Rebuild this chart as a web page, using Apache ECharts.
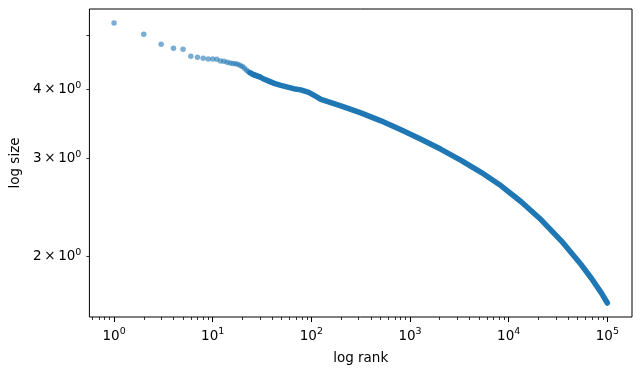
<!DOCTYPE html>
<html>
<head>
<meta charset="utf-8">
<script src="https://cdn.jsdelivr.net/npm/echarts@6/dist/echarts.min.js"></script>
<style>
  html, body { margin: 0; padding: 0; background: #fff; }
  #chart { width: 640px; height: 375px; }
</style>
</head>
<body>
<div id="chart"></div>
<script>
// individual points at the top ranks
const topRank = [1, 2, 3, 4, 5, 6, 7, 8, 9, 10, 11, 12, 13, 14, 15, 16, 17, 18, 19, 20,
  21, 22, 23, 24, 25, 26, 27, 28, 29, 30];
const topSize = [5.267, 5.026, 4.821, 4.742, 4.722, 4.587, 4.568, 4.549, 4.536, 4.532,
  4.530, 4.498, 4.493, 4.474, 4.461, 4.452, 4.443, 4.434, 4.415, 4.393,
  4.361, 4.328, 4.301, 4.280, 4.262, 4.248, 4.238, 4.227, 4.218, 4.210];

// dense part: the points merge into a solid band
const bandRank = [24, 26, 28, 30, 33, 36, 42, 49, 66, 78, 94, 110, 125, 199, 317, 507, 809, 1291,
  2061, 3289, 5249, 8378, 13370, 21340, 34110, 54450, 68860, 86900, 100000];
const bandSize = [4.280, 4.248, 4.227, 4.210, 4.171, 4.144, 4.098, 4.064, 4.008, 3.988, 3.947, 3.885, 3.834,
  3.732, 3.625, 3.507, 3.378, 3.248, 3.116, 2.977, 2.832, 2.678, 2.506,
  2.325, 2.131, 1.929, 1.824, 1.717, 1.646];

// axis ticks
const xMajor = [1, 10, 100, 1000, 10000, 100000];
const xMinorSteps = [2, 3, 4, 5, 6, 7, 8, 9];
const yLabelTicks = [2, 3, 4];
const yAllTicks = [2, 3, 4, 5];

const xMinor = [];
[0.1, 1, 10, 100, 1000, 10000].forEach(d => {
  xMinorSteps.forEach(s => xMinor.push(+(s * d).toPrecision(3)));
});

const xMin = 0.5623, xMax = 177828;
const yMin = 1.553, yMax = 5.58;
const font = 'DejaVu Sans';

// mathtext-like 10^n labels
const richLabel = {
  m: { fontFamily: font, fontSize: 13.5, color: '#000', lineHeight: 18 },
  s: { fontFamily: font, fontSize: 9.5, color: '#000', lineHeight: 11, verticalAlign: 'top' }
};

const chart = echarts.init(document.getElementById('chart'));

const option = {
  animation: false,
  backgroundColor: '#fff',
  grid: {
    left: 88, right: 8, top: 9, bottom: 58,
    show: true,
    borderColor: '#000',
    borderWidth: 1
  },
  xAxis: [
    {
      type: 'log',
      position: 'bottom',
      min: xMin,
      max: xMax,
      name: 'log rank',
      nameLocation: 'middle',
      nameGap: 34,
      nameTextStyle: { color: '#000', fontFamily: font, fontSize: 13.5 },
      axisLine: { show: false },
      splitLine: { show: false },
      axisTick: {
        customValues: xMajor,
        length: 5,
        lineStyle: { color: '#000', width: 1 }
      },
      axisLabel: {
        customValues: xMajor,
        margin: 10,
        rich: richLabel,
        formatter: v => '{m|10}{s|' + Math.round(Math.log10(v)) + '}'
      }
    },
    {
      type: 'log',
      position: 'bottom',
      min: xMin,
      max: xMax,
      axisLine: { show: false },
      splitLine: { show: false },
      axisLabel: { show: false },
      axisTick: {
        customValues: xMinor,
        length: 3,
        lineStyle: { color: '#000', width: 0.8 }
      }
    }
  ],
  yAxis: {
    type: 'log',
    min: yMin,
    max: yMax,
    name: 'log size',
    nameLocation: 'middle',
    nameGap: 66,
    nameTextStyle: { color: '#000', fontFamily: font, fontSize: 13.5 },
    axisLine: { show: false },
    splitLine: { show: false },
    axisTick: {
      customValues: yAllTicks,
      length: 3,
      lineStyle: { color: '#000', width: 0.8 }
    },
    axisLabel: {
      customValues: yLabelTicks,
      margin: 8,
      rich: richLabel,
      formatter: v => '{m|' + Math.round(v) + '\u2009×\u200910}{s|0}'
    }
  },
  series: [
    {
      type: 'line',
      xAxisIndex: 0,
      data: bandRank.map((r, i) => [r, bandSize[i]]),
      showSymbol: false,
      symbol: 'none',
      lineStyle: { color: '#1f77b4', width: 5.5, cap: 'round', join: 'round' },
      z: 2
    },
    {
      type: 'scatter',
      xAxisIndex: 0,
      data: topRank.map((r, i) => [r, topSize[i]]),
      symbolSize: 5.5,
      itemStyle: { color: '#1f77b4', opacity: 0.6 },
      z: 3
    }
  ]
};

chart.setOption(option);
</script>
</body>
</html>
